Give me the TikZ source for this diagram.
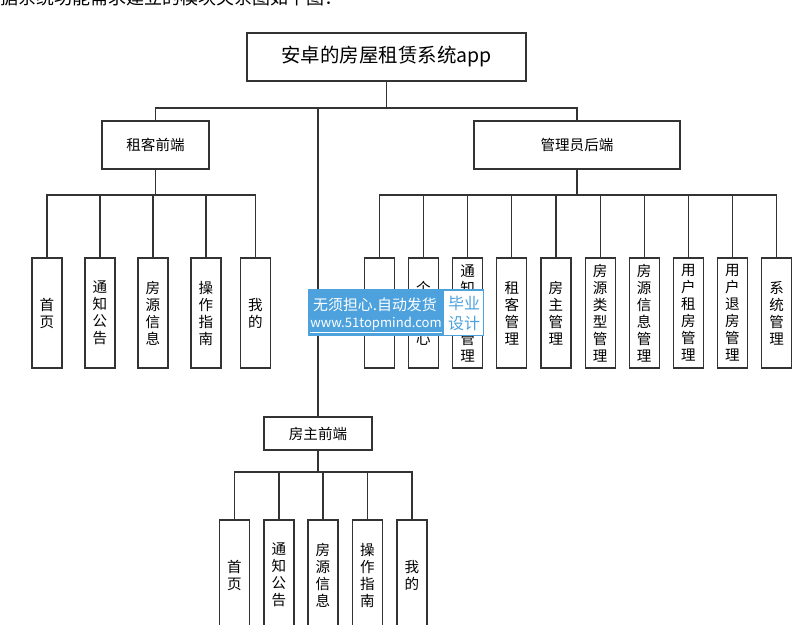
\documentclass[tikz,border=0pt]{standalone}
\usepackage{fontspec}
\setmainfont{Noto Sans CJK SC}
\definecolor{wmblue}{HTML}{4DA2DE}
\begin{document}
\begin{tikzpicture}[x=0.75pt,y=-0.75pt,
  box/.style={draw=black!80, line width=0.9pt, fill=white, inner sep=0pt,
    font=\fontsize{10.9}{12.75}\selectfont, align=center},
  leaf/.style={box, minimum width=22.5pt, minimum height=82.5pt},
  ln/.style={draw=black!80, line width=0.9pt}]
\clip (0,0) rectangle (800,625);
\fill[white] (0,0) rectangle (800,625);
% caption (cut off at the top)
\node[anchor=base west, inner sep=0pt, font=\fontsize{13.5}{16}\selectfont] (cap) at (0,4) {据系统功能需求建立的模块关系图如下图：};
% main boxes
\node[box, minimum width=209.25pt, minimum height=36pt, font=\fontsize{14.6}{17}\selectfont] (root) at (386.5,57) {安卓的房屋租赁系统app};
\node[box, minimum width=80.25pt, minimum height=36pt] (tenant) at (155.5,145) {租客前端};
\node[box, minimum width=154.5pt, minimum height=36pt] (admin) at (577,145) {管理员后端};
\node[box, minimum width=81pt, minimum height=24.75pt] (landlord) at (318,433.5) {房主前端};
\coordinate (bus0) at (386.5,108);
\coordinate (busT) at (155.5,195);
\coordinate (busA) at (577,195);
\coordinate (busL) at (318,472);
% tenant leaves
\node[leaf] (t1) at (47,313) {首\\页};
\node[leaf] (t2) at (100,313) {通\\知\\公\\告};
\node[leaf] (t3) at (153,313) {房\\源\\信\\息};
\node[leaf] (t4) at (206,313) {操\\作\\指\\南};
\node[leaf] (t5) at (255.5,313) {我\\的};
% admin leaves
\node[leaf] (a1) at (379.3,313) {首\\页};
\node[leaf] (a2) at (423.5,313) {个\\人\\中\\心};
\node[leaf] (a3) at (467.6,313) {通\\知\\公\\告\\管\\理};
\node[leaf] (a4) at (511.8,313) {租\\客\\管\\理};
\node[leaf] (a5) at (555.9,313) {房\\主\\管\\理};
\node[leaf] (a6) at (600.1,313) {房\\源\\类\\型\\管\\理};
\node[leaf] (a7) at (644.2,313) {房\\源\\信\\息\\管\\理};
\node[leaf] (a8) at (688.4,313) {用\\户\\租\\房\\管\\理};
\node[leaf] (a9) at (732.5,313) {用\\户\\退\\房\\管\\理};
\node[leaf] (a10) at (776.7,313) {系\\统\\管\\理};
% landlord leaves
\node[leaf] (l1) at (234.5,575) {首\\页};
\node[leaf] (l2) at (279,575) {通\\知\\公\\告};
\node[leaf] (l3) at (323,575) {房\\源\\信\\息};
\node[leaf] (l4) at (367.5,575) {操\\作\\指\\南};
\node[leaf] (l5) at (412,575) {我\\的};
% connectors
\draw[ln] (root.south) -- (bus0);
\foreach \n in {tenant,admin,landlord} \draw[ln] (\n.north) |- (bus0);
\draw[ln] (tenant.south) -- (busT);
\foreach \n in {t1,t2,t3,t4,t5} \draw[ln] (\n.north) |- (busT);
\draw[ln] (admin.south) -- (busA);
\foreach \n in {a1,a2,a3,a4,a5,a6,a7,a8,a9,a10} \draw[ln] (\n.north) |- (busA);
\draw[ln] (landlord.south) -- (busL);
\foreach \n in {l1,l2,l3,l4,l5} \draw[ln] (\n.north) |- (busL);
% watermark overlay
\fill[wmblue] (308,289) rectangle (484,336);
\fill[white] (444,290.5) rectangle (482.5,334.5);
\node[text=white, inner sep=0pt, font=\fontsize{11.2}{13}\selectfont] (wm1) at (375,305) {无须担心.自动发货};
\node[text=white, inner sep=0pt, font=\fontsize{9.8}{12}\selectfont] (wm2) at (376,325) {\underline{www.51topmind.com}};
\node[text=wmblue, inner sep=0pt, align=center, font=\fontsize{12}{15}\selectfont] (wm3) at (464,313) {毕业\\设计};
\end{tikzpicture}
\end{document}
